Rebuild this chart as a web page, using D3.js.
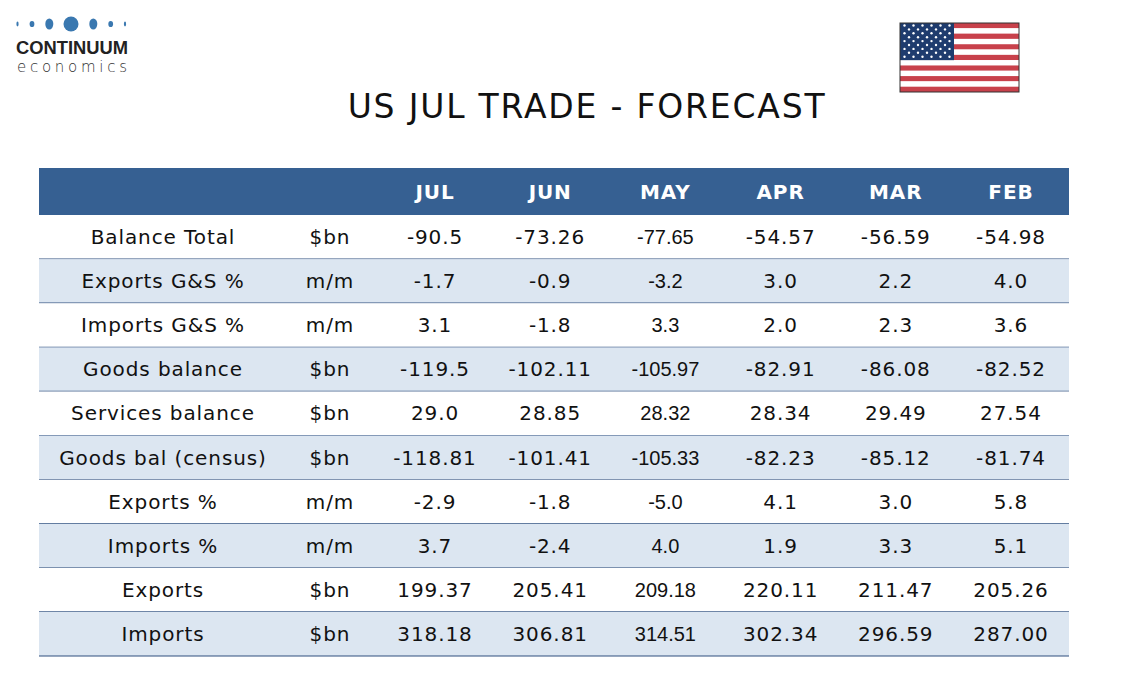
<!DOCTYPE html>
<html>
<head>
<meta charset="utf-8">
<script src="https://cdn.jsdelivr.net/npm/d3@7"></script>
<style>
  html, body { margin: 0; padding: 0; background: #fff; }
</style>
</head>
<body>
<div id="chart"></div>
<script>
// Table data
const months = ["JUL", "JUN", "MAY", "APR", "MAR", "FEB"];
const rowLabels = ["Balance Total", "Exports G&S %", "Imports G&S %", "Goods balance", "Services balance",
  "Goods bal (census)", "Exports %", "Imports %", "Exports", "Imports"];
const units = ["$bn", "m/m", "m/m", "$bn", "$bn", "$bn", "m/m", "m/m", "$bn", "$bn"];
const values = [
  ["-90.5", "-73.26", "-77.65", "-54.57", "-56.59", "-54.98"],
  ["-1.7", "-0.9", "-3.2", "3.0", "2.2", "4.0"],
  ["3.1", "-1.8", "3.3", "2.0", "2.3", "3.6"],
  ["-119.5", "-102.11", "-105.97", "-82.91", "-86.08", "-82.52"],
  ["29.0", "28.85", "28.32", "28.34", "29.49", "27.54"],
  ["-118.81", "-101.41", "-105.33", "-82.23", "-85.12", "-81.74"],
  ["-2.9", "-1.8", "-5.0", "4.1", "3.0", "5.8"],
  ["3.7", "-2.4", "4.0", "1.9", "3.3", "5.1"],
  ["199.37", "205.41", "209.18", "220.11", "211.47", "205.26"],
  ["318.18", "306.81", "314.51", "302.34", "296.59", "287.00"]
];

const W = 1134, H = 680;
const FONT = "Verdana, 'DejaVu Sans', sans-serif";
const LS = 0.9; // widen DejaVu a bit to look like Verdana

const svg = d3.select("#chart").append("svg")
  .attr("width", W)
  .attr("height", H);

// Logo dots: [cx, rx, ry]
const dots = [[17.5, 1.1, 2.4], [32, 2.4, 3.1], [49.3, 4, 5.5], [71, 7.5, 7.5], [93.3, 4, 5.5], [110.7, 2.4, 3.1], [125, 1.1, 2.4]];
svg.append("g").selectAll("ellipse")
  .data(dots)
  .join("ellipse")
  .attr("cx", d => d[0])
  .attr("cy", 24)
  .attr("rx", d => d[1])
  .attr("ry", d => d[2])
  .attr("fill", "#3a78b0");

svg.append("text")
  .attr("x", 16).attr("y", 54)
  .attr("font-family", "'Liberation Sans', Arial, sans-serif")
  .attr("font-size", 18)
  .attr("font-weight", 700)
  .attr("textLength", 112)
  .attr("lengthAdjust", "spacingAndGlyphs")
  .attr("fill", "#222")
  .text("CONTINUUM");

svg.append("text")
  .attr("x", 17).attr("y", 72)
  .attr("font-family", "'DejaVu Sans', sans-serif")
  .attr("font-size", 15)
  .attr("font-weight", 300)
  .attr("textLength", 110)
  .attr("fill", "#333")
  .text("economics");

// Flag
const flag = svg.append("g").attr("transform", "translate(900,23)");
const fw = 119, fh = 69;
const stripe = d3.scaleBand().domain(d3.range(13)).range([0, fh]);
flag.selectAll("rect.stripe")
  .data(d3.range(13))
  .join("rect")
  .attr("class", "stripe")
  .attr("x", 0)
  .attr("y", d => stripe(d))
  .attr("width", fw)
  .attr("height", stripe.bandwidth())
  .attr("fill", d => d % 2 === 0 ? "#c8414b" : "#ffffff");
const cw = 54, ch = stripe(7);
flag.append("rect").attr("width", cw).attr("height", ch).attr("fill", "#1f3c6e");
const stars = [];
for (let r = 0; r < 9; r++) {
  const n = r % 2 === 0 ? 6 : 5;
  for (let c = 0; c < n; c++) {
    stars.push([(r % 2 === 0 ? 4.5 : 9) + c * 9, 2.5 + r * 3.9]);
  }
}
flag.selectAll("circle.star")
  .data(stars)
  .join("circle")
  .attr("cx", d => d[0])
  .attr("cy", d => d[1])
  .attr("r", 1.2)
  .attr("fill", "#fff");
flag.append("rect").attr("width", fw).attr("height", fh)
  .attr("fill", "none").attr("stroke", "#333").attr("stroke-width", 1);

// Title
svg.append("text")
  .attr("x", 587).attr("y", 118)
  .attr("text-anchor", "middle")
  .attr("font-family", FONT)
  .attr("font-size", 33)
  .attr("letter-spacing", 1.8)
  .attr("fill", "#111")
  .text("US JUL TRADE - FORECAST");

// Table
const tX0 = 39, tX1 = 1069;
const headTop = 168, headH = 47;
const y = d3.scaleBand().domain(d3.range(rowLabels.length)).range([headTop + headH, 656]);
const x = d3.scalePoint().domain(months).range([435, 1011]);

svg.append("rect")
  .attr("x", tX0).attr("y", headTop)
  .attr("width", tX1 - tX0).attr("height", headH)
  .attr("fill", "#366092");

svg.selectAll("text.head")
  .data(months)
  .join("text")
  .attr("class", "head")
  .attr("x", d => x(d))
  .attr("y", headTop + headH / 2 + 7)
  .attr("text-anchor", "middle")
  .attr("font-family", FONT)
  .attr("font-size", 20)
  .attr("font-weight", 700)
  .attr("letter-spacing", LS)
  .attr("fill", "#fff")
  .text(d => d);

const rows = svg.selectAll("g.row")
  .data(rowLabels)
  .join("g")
  .attr("class", "row")
  .attr("transform", (d, i) => `translate(0,${y(i)})`);

rows.append("rect")
  .attr("x", tX0).attr("y", 0)
  .attr("width", tX1 - tX0).attr("height", y.bandwidth())
  .attr("fill", (d, i) => i % 2 === 1 ? "#dce6f1" : "#ffffff");

rows.append("line")
  .attr("x1", tX0).attr("x2", tX1)
  .attr("y1", y.bandwidth()).attr("y2", y.bandwidth())
  .attr("stroke", "#2f4f7f").attr("stroke-width", 1.2);

const ty = y.bandwidth() / 2 + 7;

rows.append("text")
  .attr("x", 163).attr("y", ty)
  .attr("text-anchor", "middle")
  .attr("font-family", FONT).attr("font-size", 20)
  .attr("letter-spacing", LS)
  .attr("fill", "#111")
  .text(d => d);

rows.append("text")
  .attr("x", 330).attr("y", ty)
  .attr("text-anchor", "middle")
  .attr("font-family", FONT).attr("font-size", 20)
  .attr("letter-spacing", LS)
  .attr("fill", "#111")
  .text((d, i) => units[i]);

rows.each(function (d, i) {
  d3.select(this).selectAll("text.val")
    .data(values[i])
    .join("text")
    .attr("class", "val")
    .attr("x", (v, j) => x(months[j]))
    .attr("y", ty)
    .attr("text-anchor", "middle")
    .attr("font-family", (v, j) => months[j] === "MAY" ? "'Liberation Sans', Arial, sans-serif" : FONT)
    .attr("font-size", 20)
    .attr("letter-spacing", (v, j) => months[j] === "MAY" ? 0 : LS)
    .attr("fill", "#111")
    .text(v => v);
});
</script>
</body>
</html>
